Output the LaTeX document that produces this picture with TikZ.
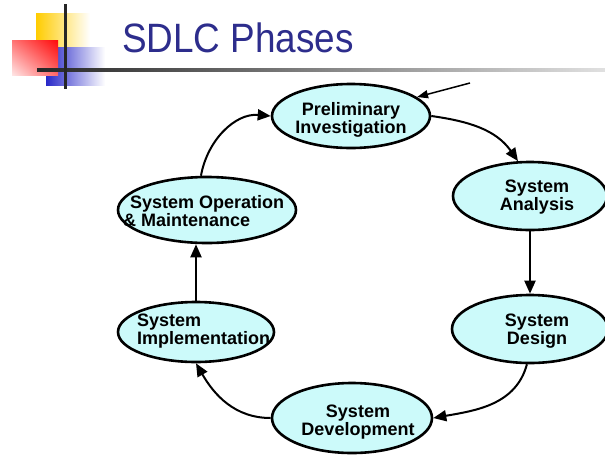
\documentclass[tikz,border=0pt]{standalone}
\usepackage{fontspec}
\setmainfont{Liberation Sans}
\usetikzlibrary{shapes.geometric,arrows.meta,shadings}
\definecolor{titleblue}{RGB}{45,45,140}
\definecolor{phasefill}{RGB}{204,250,250}
\definecolor{sqyellow}{RGB}{255,204,0}
\definecolor{sqred}{RGB}{255,10,10}
\definecolor{sqblue}{RGB}{40,40,200}
\begin{document}
\begin{tikzpicture}[x=1pt,y=-1pt,
  phase/.style={ellipse, draw=black, line width=2.6pt, fill=phasefill, inner sep=0pt},
  ptext/.style={font=\fontsize{18}{18}\selectfont\bfseries, inner sep=0pt},
  flow/.style={line width=2pt, -{Triangle[length=13pt,width=11pt]}}]
\useasboundingbox (0,0) rectangle (605,456);
% decoration
\shade[left color=sqyellow, right color=white] (36,13) rectangle (90,60);
\shade[left color=sqblue, right color=white] (46,47) rectangle (105,85);
\shade[upper right=sqred, lower left=red!10, upper left=red!55, lower right=red!60] (12,40) rectangle (58,75);
\shade[left color=black!85, right color=black!12] (37,68) rectangle (605,71);
\fill[black!85] (64,4) rectangle (67,89);
% title
\node[font=\fontsize{41}{41}\selectfont, text=titleblue, anchor=base west, inner sep=0pt] (title) at (122,52) {\scalebox{0.9}[1]{SDLC Phases}};
% phases
\node[phase, minimum width=158pt, minimum height=64pt] (e1) at (351,116) {};
\node[phase, minimum width=154pt, minimum height=68pt] (e2) at (530,196) {};
\node[phase, minimum width=156pt, minimum height=68pt] (e3) at (530,329) {};
\node[phase, minimum width=160pt, minimum height=70pt] (e4) at (352,418) {};
\node[phase, minimum width=156pt, minimum height=60pt] (e5) at (196,332) {};
\node[phase, minimum width=178pt, minimum height=66pt] (e6) at (207,210) {};
\node[ptext, align=center] (t1) at (351,120) {Preliminary\\Investigation};
\node[ptext, align=center] (t2) at (537,197) {System\\Analysis};
\node[ptext, align=center] (t3) at (537,331) {System\\Design};
\node[ptext, align=center] (t4) at (358,422) {System\\Development};
\node[ptext, align=left, anchor=west] (t5) at (137,331) {System\\Implementation};
\node[ptext, align=left, anchor=west] (t6) at (123,211) {\hspace*{7pt}System Operation\\\& Maintenance};
% connectors
\coordinate (in0) at (470,83);
\draw[line width=1.5pt, -{Triangle[length=11pt,width=8pt]}] (in0) -- (e1.16);
\draw[flow] (e1.east) to[out=-8,in=125] (e2.109);
\draw[flow] (e2.south) -- (e3.north);
\draw[flow] (e3.265) to[out=-105,in=10] (e4.east);
\draw[flow] (e4.west) to[out=180,in=-60] (e5.south);
\draw[flow] (e5.north) -- (e5.north |- e6.south);
\draw[flow] (e6.100) to[out=80,in=175] (e1.west);
\end{tikzpicture}
\end{document}
